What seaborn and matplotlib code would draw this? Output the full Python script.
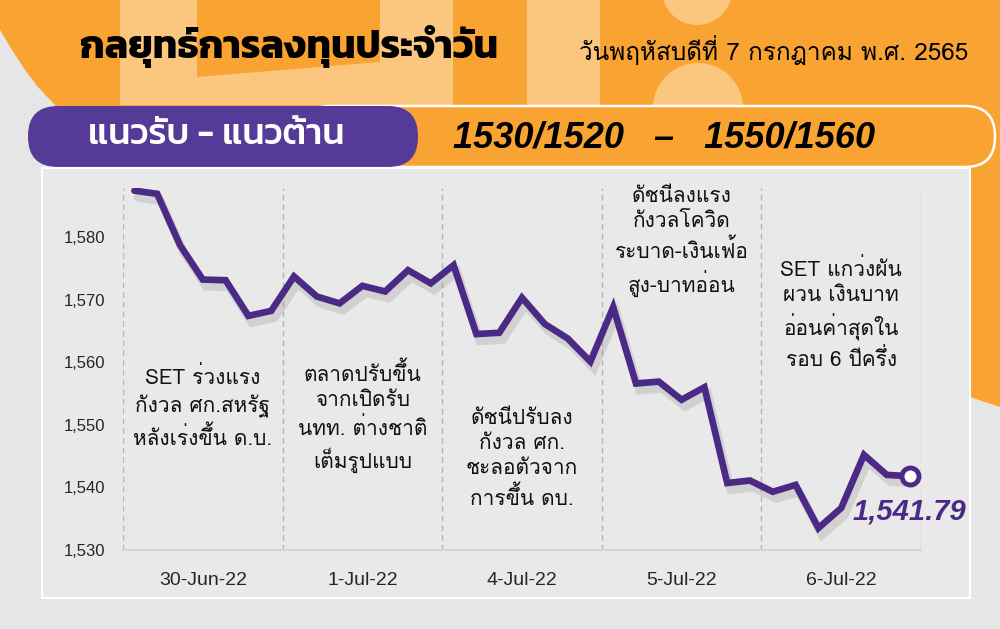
import pandas as pd
import matplotlib
matplotlib.use("Agg")
import matplotlib.pyplot as plt
import matplotlib.patheffects as pe
from matplotlib.patches import Rectangle, Polygon, Circle, FancyBboxPatch
import seaborn as sns

# ---- data ----
days = ["30-Jun-22", "1-Jul-22", "4-Jul-22", "5-Jul-22", "6-Jul-22"]
points_per_day = 7
set_index = [
    1587.4, 1586.9, 1578.7, 1573.2, 1573.1, 1567.4, 1568.2,
    1573.7, 1570.5, 1569.4, 1572.2, 1571.3, 1574.7, 1572.6,
    1575.5, 1564.5, 1564.7, 1570.3, 1566.1, 1563.8, 1560.1,
    1568.8, 1556.6, 1556.9, 1554.0, 1556.0, 1540.7, 1541.1,
    1539.3, 1540.4, 1533.5, 1536.7, 1545.2, 1542.0, 1541.79,
]
y_ticks = [1530, 1540, 1550, 1560, 1570, 1580]
notes = [
    "SET ร่วงแรง\nกังวล ศก.สหรัฐ\nหลังเร่งขึ้น ด.บ.",
    "ตลาดปรับขึ้น\nจากเปิดรับ\nนทท. ต่างชาติ\nเต็มรูปแบบ",
    "ดัชนีปรับลง\nกังวล ศก.\nชะลอตัวจาก\nการขึ้น ดบ.",
    "ดัชนีลงแรง\nกังวลโควิด\nระบาด-เงินเฟ้อ\nสูง-บาทอ่อน",
    "SET แกว่งผัน\nผวน เงินบาท\nอ่อนค่าสุดใน\nรอบ 6 ปีครึ่ง",
]
note_y = [1552.8, 1551.2, 1544.5, 1579.1, 1567.7]
title = "กลยุทธ์การลงทุนประจำวัน"
date_text = "วันพฤหัสบดีที่ 7 กรกฎาคม พ.ศ. 2565"
band_label = "แนวรับ - แนวต้าน"
band_levels = "1530/1520   –   1550/1560"
last_label = "1,541.79"

df = pd.DataFrame({"idx": range(len(set_index)), "value": set_index})

sns.set_style("white")
latin_fam = ["Liberation Sans", "DejaVu Sans"]
head_fam = ["Kanit", "Loma", "DejaVu Sans"]
body_fam = ["Loma", "Liberation Sans", "DejaVu Sans"]
plt.rcParams["font.family"] = latin_fam

orange = "#f9a432"
pale = "#fbc77f"
grey_bg = "#e6e6e6"
purple_bar = "#553a98"
purple_line = "#4b2a86"

fig = plt.figure(figsize=(10, 6.29), dpi=100, facecolor=grey_bg)

# background layer, pixel coordinates
bg = fig.add_axes([0, 0, 1, 1], zorder=0)
bg.set_xlim(0, 1000)
bg.set_ylim(629, 0)
bg.axis("off")

bg.add_patch(Polygon([(0, 0), (0, 30), (12, 50), (25, 70), (38, 87), (55, 105),
                      (60, 168), (970, 397), (1000, 407), (1000, 0)],
                     closed=True, facecolor=orange, edgecolor="none"))
bg.add_patch(Rectangle((120, 0), 77, 105, facecolor=pale, edgecolor="none"))
bg.add_patch(Polygon([(197, 77), (380, 62), (380, 105), (197, 105)],
                     facecolor=pale, edgecolor="none"))
bg.add_patch(Rectangle((380, 0), 73, 105, facecolor=pale, edgecolor="none"))
bg.add_patch(Rectangle((527, 0), 73, 105, facecolor=pale, edgecolor="none"))
bg.add_patch(Circle((697, -10), 35, facecolor=pale, edgecolor="none"))
bg.add_patch(Circle((698, 108), 45, facecolor=pale, edgecolor="none"))

bg.add_patch(FancyBboxPatch((300, 106), 695, 61,
                            boxstyle="round,pad=0,rounding_size=30",
                            facecolor=orange, edgecolor="white", linewidth=1.8))
bg.add_patch(FancyBboxPatch((28, 106), 390, 61,
                            boxstyle="round,pad=0,rounding_size=30",
                            facecolor=purple_bar, edgecolor="none"))
bg.add_patch(Rectangle((42, 168), 928, 430, facecolor="#e9e9ea",
                       edgecolor="white", linewidth=1.5))

bg.text(80, 47, title, family=head_fam, fontsize=28, fontweight=700,
        color="black", ha="left", va="center")
bg.text(968, 50, date_text, family=body_fam, fontsize=17.5, color="black",
        ha="right", va="center")
bg.text(216, 135, band_label, family=head_fam, fontsize=26, fontweight=500,
        color="white", ha="center", va="center")
bg.text(453, 138, band_levels, family=latin_fam, fontsize=26, fontweight="bold",
        fontstyle="italic", color="black", ha="left", va="center")

# ---- chart ----
ax = fig.add_axes([0.123, 79 / 629, 0.798, 362 / 629], zorder=2)
ax.set_facecolor("none")

n = len(set_index)
for b in range(len(days) + 1):
    ax.axvline(b * points_per_day - 0.5, color="#b4b4b4", linestyle=(0, (4, 3)),
               linewidth=1, zorder=1)

sns.lineplot(data=df, x="idx", y="value", ax=ax, color=purple_line, linewidth=4.8,
             zorder=3, solid_joinstyle="miter",
             path_effects=[pe.SimpleLineShadow(offset=(2.5, -5), shadow_color="#8a8a8a",
                                               alpha=0.25, linewidth=6),
                           pe.Normal()])
sns.scatterplot(data=df.tail(1), x="idx", y="value", ax=ax, s=150, color="white",
                edgecolor=purple_line, linewidth=3.5, zorder=4)

ax.set_xlim(-0.5, n - 0.5)
ax.set_ylim(1530, 1587.83)
ax.set_yticks(y_ticks)
ax.set_yticklabels([f"{v:,}" for v in y_ticks], fontsize=12)
centers = [d * points_per_day + (points_per_day - 1) / 2 for d in range(len(days))]
ax.set_xticks(centers)
ax.set_xticklabels(days, fontsize=14)
ax.tick_params(axis="y", length=0, pad=13)
ax.tick_params(axis="x", length=0, pad=16)
ax.set_xlabel("")
ax.set_ylabel("")
for s in ["top", "right", "left"]:
    ax.spines[s].set_visible(False)
ax.spines["bottom"].set_color("#d6d6d6")
ax.spines["bottom"].set_linewidth(1.5)

for c, txt, y in zip(centers, notes, note_y):
    ax.text(c, y, txt, family=body_fam, fontsize=15, ha="center", va="center",
            linespacing=1.4, color="#111111", zorder=2)

ax.text(n - 1, 1536.1, last_label, fontsize=21, fontweight="heavy", fontstyle="italic",
        color=purple_line, ha="center", va="center", zorder=5)

fig.savefig("out.png", dpi=100, facecolor=grey_bg)
